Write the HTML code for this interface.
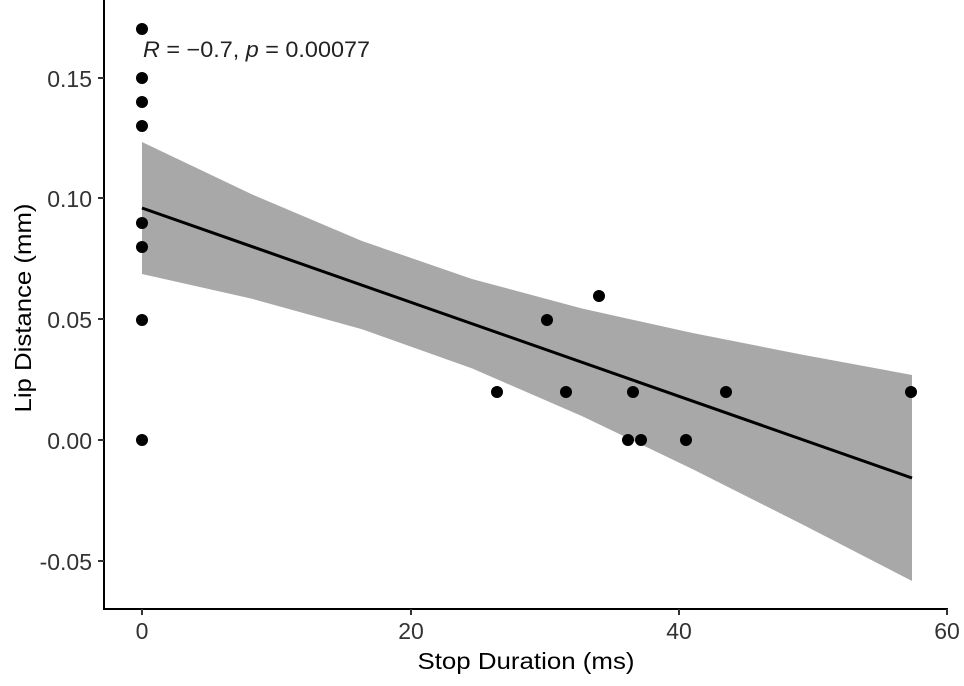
<!DOCTYPE html>
<html><head><meta charset="utf-8"><style>body{margin:0;background:#fff}svg{display:block}</style></head>
<body>
<svg width="964" height="686" xmlns="http://www.w3.org/2000/svg" font-family="Liberation Sans, sans-serif">
<path d="M142,142 L252,194.4 L362,241 L472,279 L582,308.5 L692,332.9 L802,354.6 L912,375 L912,581 L802,524.2 L692,468.9 L582,416.1 L472,368.4 L362,329.2 L252,298.8 L142,274 Z" fill="#a8a8a8"/>
<line x1="142" y1="208" x2="912" y2="478" stroke="#000" stroke-width="3"/>
<g fill="#000">
<circle cx="142" cy="29" r="6"/><circle cx="142" cy="78" r="6"/><circle cx="142" cy="102" r="6"/><circle cx="142" cy="126" r="6"/>
<circle cx="142" cy="223" r="6"/><circle cx="142" cy="247" r="6"/><circle cx="142" cy="320" r="6"/><circle cx="142" cy="440" r="6"/>
<circle cx="497" cy="392" r="6"/><circle cx="547" cy="320" r="6"/><circle cx="566" cy="392" r="6"/><circle cx="599" cy="296" r="6"/>
<circle cx="628" cy="440" r="6"/><circle cx="633" cy="392" r="6"/><circle cx="641" cy="440" r="6"/><circle cx="686" cy="440" r="6"/>
<circle cx="726" cy="392" r="6"/><circle cx="911" cy="392" r="6"/>
</g>
<text x="143" y="57" font-size="22" textLength="227" lengthAdjust="spacingAndGlyphs" fill="#222"><tspan font-style="italic">R</tspan> = −0.7, <tspan font-style="italic">p</tspan> = 0.00077</text>
<path d="M104,0 L104,609 L948,609" fill="none" stroke="#000" stroke-width="2"/>
<g stroke="#333" stroke-width="2">
<line x1="98" y1="78" x2="104" y2="78"/><line x1="98" y1="198" x2="104" y2="198"/><line x1="98" y1="319" x2="104" y2="319"/><line x1="98" y1="440" x2="104" y2="440"/><line x1="98" y1="561" x2="104" y2="561"/>
<line x1="142" y1="609" x2="142" y2="615"/><line x1="411" y1="609" x2="411" y2="615"/><line x1="679" y1="609" x2="679" y2="615"/><line x1="947" y1="609" x2="947" y2="615"/>
</g>
<g font-size="23" fill="#333" text-anchor="end">
<text x="92" y="87">0.15</text><text x="92" y="207">0.10</text><text x="92" y="328">0.05</text><text x="92" y="449">0.00</text><text x="92" y="570">-0.05</text>
</g>
<g font-size="23" fill="#333" text-anchor="middle">
<text x="142" y="639">0</text><text x="411" y="639">20</text><text x="679" y="639">40</text><text x="947" y="639">60</text>
</g>
<text x="526" y="669" font-size="23" text-anchor="middle" textLength="217" lengthAdjust="spacingAndGlyphs">Stop Duration (ms)</text>
<text transform="translate(31,308) rotate(-90)" font-size="23" text-anchor="middle" textLength="209" lengthAdjust="spacingAndGlyphs">Lip Distance (mm)</text>
</svg>
</body></html>
